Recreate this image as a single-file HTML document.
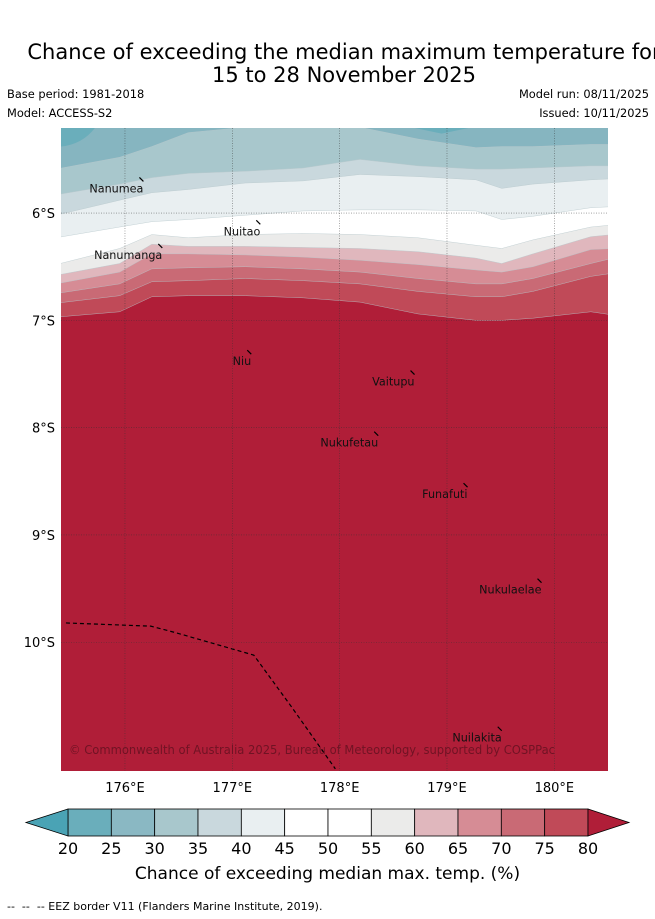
<!DOCTYPE html>
<html><head><meta charset="utf-8">
<style>
html,body{margin:0;padding:0;background:#fff;}
body{width:655px;height:919px;position:relative;overflow:hidden;font-family:"DejaVu Sans","Liberation Sans",sans-serif;}
.t{position:absolute;white-space:nowrap;color:#000;}
</style></head>
<body>
<div class="t" style="left:0;width:688px;top:41px;text-align:center;font-size:21px;line-height:23px;">Chance of exceeding the median maximum temperature for<br>15 to 28 November 2025</div>
<div class="t" style="left:7px;top:87px;font-size:11.4px;">Base period: 1981-2018</div>
<div class="t" style="left:7px;top:106px;font-size:11.4px;">Model: ACCESS-S2</div>
<div class="t" style="right:6px;top:87px;font-size:11.4px;">Model run: 08/11/2025</div>
<div class="t" style="right:6px;top:106px;font-size:11.4px;">Issued: 10/11/2025</div>
<svg id="map" width="655" height="919" style="position:absolute;left:0;top:0;"></svg>
<div class="t" style="left:0;width:655px;top:864px;text-align:center;font-size:17px;">Chance of exceeding median max. temp. (%)</div>
<div class="t" style="left:7px;top:900px;font-size:11px;">-- &nbsp;-- &nbsp;-- EEZ border V11 (Flanders Marine Institute, 2019).</div>
<script>
const lons=[175.41,175.95,176.25,176.59,177.12,177.66,178.19,178.73,179.27,179.51,179.80,180.34,180.51];
const b25=[5.59,5.48,5.38,5.25,5.2,5.2,5.2,5.31,5.39,5.38,5.38,5.36,5.36];
const b30=[5.83,5.73,5.67,5.63,5.61,5.58,5.5,5.56,5.59,5.59,5.58,5.56,5.56];
const b35=[6.02,5.88,5.81,5.78,5.72,5.70,5.64,5.66,5.69,5.77,5.73,5.69,5.68];
const b40=[6.23,6.13,6.08,6.06,6.02,5.98,5.97,5.97,5.98,6.06,6.03,5.95,5.94];
const b55=[6.48,6.33,6.2,6.23,6.2,6.19,6.2,6.23,6.3,6.33,6.25,6.13,6.11];
const b60=[6.58,6.47,6.29,6.31,6.31,6.32,6.33,6.36,6.42,6.47,6.38,6.22,6.2];
const b65=[6.66,6.55,6.38,6.38,6.39,6.41,6.44,6.48,6.53,6.55,6.5,6.34,6.33];
const b70=[6.75,6.66,6.52,6.51,6.5,6.52,6.55,6.61,6.66,6.66,6.61,6.47,6.42];
const b75=[6.84,6.77,6.64,6.63,6.61,6.63,6.66,6.73,6.78,6.78,6.73,6.59,6.56];
const b80=[6.97,6.92,6.78,6.77,6.77,6.79,6.83,6.94,7.0,7.0,6.98,6.92,6.95];
const lonTicks=[176,177,178,179,180];
const latTicks=[6,7,8,9,10];
const cbLevels=[20,25,30,35,40,45,50,55,60,65,70,75,80];
const cbColors=['#6aaebb','#8ab8c3','#a8c7cc','#c9d8dd','#e9eff1','#ffffff','#ffffff','#ebebea','#e0b7bd','#d68c95','#c96a75','#c04a58'];
const eezLon=[175.45,176.24,176.47,177.2,177.55,177.96];
const eezLat=[9.82,9.85,9.91,10.12,10.6,11.18];
const islands=[['Nanumea',175.92,5.77],['Nuitao',177.09,6.17],['Nanumanga',176.03,6.39],['Niu',177.09,7.38],['Vaitupu',178.50,7.57],['Nukufetau',178.09,8.14],['Funafuti',178.98,8.62],['Nukulaelae',179.59,9.51],['Nuilakita',179.28,10.89]];
const X0=61,X1=608,Y0=128,Y1=771;
const lonMin=175.404,lonMax=180.5,latMin=5.207,latMax=11.2;
const xs=l=>X0+(l-lonMin)/(lonMax-lonMin)*(X1-X0);
const ys=l=>Y0+(l-latMin)/(latMax-latMin)*(Y1-Y0);
const NS='http://www.w3.org/2000/svg';
const svg=document.getElementById('map');
function mk(tag,attrs,parent){const e=document.createElementNS(NS,tag);for(const k in attrs)e.setAttribute(k,attrs[k]);(parent||svg).appendChild(e);return e;}
const defs=mk('defs',{});
const cp=mk('clipPath',{id:'mc'},defs);mk('rect',{x:X0,y:Y0,width:X1-X0,height:Y1-Y0},cp);
const g=mk('g',{'clip-path':'url(#mc)'});
const bg=mk('rect',{x:X0,y:Y0,width:X1-X0,height:Y1-Y0,fill:'#b01e38'},g);


const bands=[[b80,'#c04a58','band-75-80'],[b75,'#c96a75','band-70-75'],[b70,'#d68c95','band-65-70'],[b65,'#e0b7bd','band-60-65'],[b60,'#ebebea','band-55-60'],[b55,'#ffffff','band-45-55'],[b40,'#e9eff1','band-40-45'],[b35,'#c9d8dd','band-35-40'],[b30,'#a8c7cc','band-30-35'],[b25,'#86b5c0','band-25-30']];
bands.forEach(([arr,col,name])=>{
  let d=`M${X0-5},${Y0-5}`;
  arr.forEach((v,i)=>{d+=` L${i==0?X0-5:(i==arr.length-1?X1+5:xs(lons[i]))},${ys(v)}`;});
  d+=` L${X1+5},${Y0-5} Z`;
  const p=mk('path',{d:d,fill:col,stroke:'#b8c8cc','stroke-width':0.4},g);
  
  
});
const c1=mk('path',{d:`M${X0},${Y0} L${xs(175.72)},${Y0} Q${xs(175.6)},${ys(5.36)} ${X0},${ys(5.38)} Z`,fill:'#6aaebb'},g);


const c2=mk('path',{d:`M${xs(178.7)},${Y0} L${xs(179.2)},${Y0} L${xs(178.95)},${ys(5.26)} Z`,fill:'#6aaebb'},g);


lonTicks.forEach(l=>{
  const ln=mk('line',{x1:xs(l),x2:xs(l),y1:Y0,y2:Y1,stroke:'#333','stroke-width':0.6,'stroke-dasharray':'1,1.5',opacity:0.7});
  
  
  const t=mk('text',{x:xs(l),y:792,'font-size':13,'text-anchor':'middle','font-family':'DejaVu Sans, sans-serif'});
  t.textContent=l+'°E';
  
  
});
latTicks.forEach(l=>{
  const ln=mk('line',{x1:X0,x2:X1,y1:ys(l),y2:ys(l),stroke:'#333','stroke-width':0.6,'stroke-dasharray':'1,1.5',opacity:0.7});
  
  
  const t=mk('text',{x:55,y:ys(l)+5,'font-size':13,'text-anchor':'end','font-family':'DejaVu Sans, sans-serif'});
  t.textContent=l+'°S';
  
  
});
let ed='';eezLon.forEach((l,i)=>{ed+=(i?' L':'M')+xs(l)+','+ys(eezLat[i]);});
const eez=mk('path',{d:ed,fill:'none',stroke:'#000','stroke-width':1.2,'stroke-dasharray':'4,3'},g);


islands.forEach(([n,lo,la])=>{
  const t=mk('text',{x:xs(lo),y:ys(la)+4,'font-size':11.2,'text-anchor':'middle','font-family':'DejaVu Sans, sans-serif',fill:'#111'});
  t.textContent=n;
  
  
  const w=t.getComputedTextLength()/2;
  const m=mk('line',{x1:xs(lo)+w-4,y1:ys(la)-11,x2:xs(lo)+w,y2:ys(la)-7,stroke:'#000','stroke-width':1.2});
  
  
});
const cr=mk('text',{x:69,y:754,'font-size':12,fill:'#6a1222','font-family':'DejaVu Sans, sans-serif',opacity:0.9,textLength:486,lengthAdjust:'spacingAndGlyphs'});
cr.textContent='© Commonwealth of Australia 2025, Bureau of Meteorology, supported by COSPPac';


const CB0=68,CB1=588,CBy=809,CBh=27;
const cx=v=>CB0+(v-cbLevels[0])/(cbLevels[cbLevels.length-1]-cbLevels[0])*(CB1-CB0);
cbColors.forEach((c,i)=>{
  const r=mk('rect',{x:cx(cbLevels[i]),y:CBy,width:cx(cbLevels[i+1])-cx(cbLevels[i]),height:CBh,fill:c,stroke:'#000','stroke-width':0.8});
  
  
});
const lt=mk('polygon',{points:`${CB0},${CBy} 26,${CBy+CBh/2} ${CB0},${CBy+CBh}`,fill:'#4aa3b5',stroke:'#000','stroke-width':0.8});


const rt=mk('polygon',{points:`${CB1},${CBy} 629,${CBy+CBh/2} ${CB1},${CBy+CBh}`,fill:'#b01e38',stroke:'#000','stroke-width':0.8});


cbLevels.forEach(v=>{
  const t=mk('text',{x:cx(v),y:854,'font-size':16,'text-anchor':'middle','font-family':'DejaVu Sans, sans-serif'});
  t.textContent=v;
  
  
});
</script>
</body></html>
